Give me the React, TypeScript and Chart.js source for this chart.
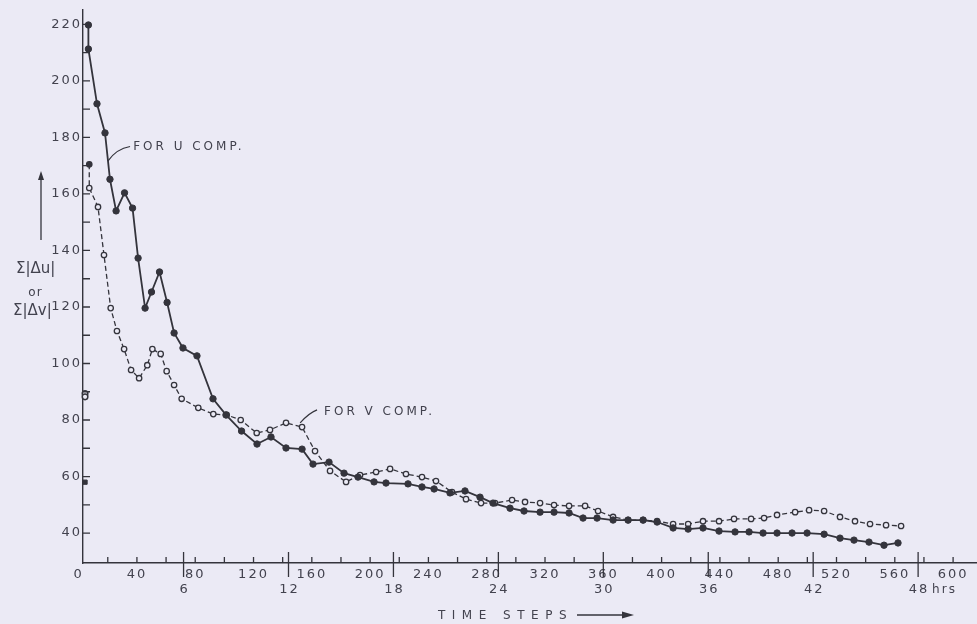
import React, { useEffect, useRef } from "react";
import { Chart, registerables } from "chart.js";

Chart.register(...registerables);

// ---------- data (time steps / sums) ----------
const uSteps = [6.7, 6.7, 12.6, 18.1, 21.5, 25.7, 31.5, 37.0, 40.8, 45.6, 50.0, 55.5, 60.7, 65.5, 71.6, 81.2, 92.2, 101.1, 111.8, 122.4, 132.0, 142.3, 153.3, 160.8, 171.8, 182.1, 191.7, 202.7, 210.9, 226.0, 235.6, 243.9, 254.8, 265.1, 275.4, 284.3, 296.0, 305.6, 316.6, 326.2, 336.5, 346.1, 355.7, 366.7, 377.0, 387.3, 396.9, 407.9, 418.2, 428.4, 439.4, 450.4, 460.0, 469.6, 479.2, 489.5, 499.8, 511.5, 522.4, 532.0, 542.3, 552.6, 562.2];
const uValues = [219.8, 211.3, 191.9, 181.6, 165.2, 154.0, 160.4, 155.0, 137.3, 119.6, 125.3, 132.4, 121.6, 110.8, 105.5, 102.7, 87.5, 81.8, 76.1, 71.5, 74.0, 70.1, 69.7, 64.4, 65.1, 61.2, 59.8, 58.1, 57.7, 57.4, 56.3, 55.6, 54.2, 54.9, 52.7, 50.6, 48.8, 47.8, 47.4, 47.4, 47.1, 45.3, 45.3, 44.6, 44.6, 44.6, 43.9, 41.8, 41.4, 41.8, 40.7, 40.4, 40.4, 40.0, 40.0, 40.0, 40.0, 39.6, 38.2, 37.5, 36.8, 35.7, 36.5];

const vSteps = [7.3, 7.3, 13.3, 17.4, 22.0, 26.3, 31.2, 36.0, 41.5, 47.1, 50.6, 56.3, 60.4, 65.5, 70.7, 82.1, 92.4, 101.6, 111.2, 122.2, 131.3, 142.3, 153.3, 162.2, 172.5, 183.5, 193.1, 204.1, 213.7, 224.6, 235.6, 245.2, 256.2, 265.8, 276.1, 285.7, 297.4, 306.3, 316.6, 326.2, 336.5, 347.5, 356.4, 366.7, 377.0, 387.3, 396.9, 407.9, 418.2, 428.4, 439.4, 449.7, 461.4, 470.3, 479.2, 491.6, 501.2, 511.5, 522.4, 532.7, 543.0, 554.0, 564.3];
const vValues = [170.5, 162.1, 155.4, 138.4, 119.6, 111.5, 105.1, 97.7, 94.8, 99.4, 105.1, 103.4, 97.3, 92.4, 87.5, 84.3, 82.1, 81.8, 80.0, 75.4, 76.5, 79.0, 77.5, 69.0, 62.0, 58.1, 60.5, 61.6, 62.7, 60.9, 59.8, 58.4, 54.5, 52.0, 50.6, 50.6, 51.7, 51.0, 50.6, 49.9, 49.6, 49.6, 47.8, 45.7, 44.6, 44.6, 44.2, 43.2, 43.2, 44.2, 44.2, 45.0, 45.0, 45.3, 46.4, 47.4, 48.1, 47.8, 45.7, 44.2, 43.2, 42.8, 42.5];

// marks sitting on the ordinate
const axisOpenSteps = [4.4, 4.4];
const axisOpenValues = [89.4, 88.2];
const axisFilledSteps = [4.4];
const axisFilledValues = [58.0];

// ---------- axes ----------
const xTickLabels = [0, 40, 80, 120, 160, 200, 240, 280, 320, 360, 400, 440, 480, 520, 560, 600];
const xMinorTicks = [20, 40, 60, 80, 100, 120, 140, 160, 180, 200, 220, 240, 260, 280, 300, 320, 340, 360, 380, 400, 420, 440, 460, 480, 500, 520, 540, 560, 580, 600];
const hourSteps = [72, 144, 216, 288, 360, 432, 504, 576];
const hourLabels = ["6", "12", "18", "24", "30", "36", "42", "48"];
const yTickLabels = [40, 60, 80, 100, 120, 140, 160, 180, 200, 220];
const yMinorTicks = [40, 50, 60, 70, 80, 90, 100, 110, 120, 130, 140, 150, 160, 170, 180, 190, 200, 210, 220];

const X_MIN = 3.0;
const X_MAX = 616.4;
const Y_MIN = 29.4;
const Y_MAX = 225.1;

const BG = "#ebeaf5";
const INK = "#34343c";
const LABEL = "#42424e";
const FONT = '"DejaVu Sans", sans-serif';

function drawText(
  ctx: CanvasRenderingContext2D,
  s: string,
  x: number,
  y: number,
  size: number,
  align: CanvasTextAlign,
  spacing: number
) {
  ctx.font = `${size}px ${FONT}`;
  (ctx as any).letterSpacing = `${spacing}px`;
  ctx.textAlign = align;
  ctx.textBaseline = "middle";
  ctx.fillStyle = LABEL;
  const dx = align === "center" ? spacing / 2 : 0;
  ctx.fillText(s, x + dx, y);
}

const decor = {
  id: "decor",
  beforeDraw(chart: any) {
    (chart.ctx as any).letterSpacing = "2px";
  },
  afterDraw(chart: any) {
    const ctx: CanvasRenderingContext2D = chart.ctx;
    const x = chart.scales.x;
    const y = chart.scales.y;
    const { left, bottom } = chart.chartArea;
    ctx.save();
    (ctx as any).letterSpacing = "0px";
    ctx.strokeStyle = INK;
    ctx.lineWidth = 1.3;
    ctx.beginPath();
    for (const v of yMinorTicks) {
      const py = y.getPixelForValue(v);
      ctx.moveTo(left, py);
      ctx.lineTo(left + 7, py);
    }
    for (const s of xMinorTicks) {
      const px = x.getPixelForValue(s);
      ctx.moveTo(px, bottom);
      ctx.lineTo(px, bottom - 6);
    }
    for (const s of hourSteps) {
      const px = x.getPixelForValue(s);
      ctx.moveTo(px, bottom - 11);
      ctx.lineTo(px, bottom + 14);
    }
    ctx.stroke();

    // hour labels
    hourLabels.forEach((h, i) => {
      const px = x.getPixelForValue(hourSteps[i]);
      drawText(ctx, h, px, 590, 13, "center", 2);
      if (i === hourLabels.length - 1) {
        drawText(ctx, "hrs", px + 14, 590, 12, "left", 2);
      }
    });

    // annotations
    ctx.strokeStyle = INK;
    ctx.lineWidth = 1.2;
    ctx.beginPath();
    ctx.moveTo(x.getPixelForValue(20.2), y.getPixelForValue(171.7));
    ctx.quadraticCurveTo(
      x.getPixelForValue(26), y.getPixelForValue(176),
      x.getPixelForValue(35.3), y.getPixelForValue(176.8)
    );
    ctx.moveTo(x.getPixelForValue(152), y.getPixelForValue(79));
    ctx.quadraticCurveTo(
      x.getPixelForValue(158), y.getPixelForValue(82.5),
      x.getPixelForValue(163.6), y.getPixelForValue(83.6)
    );
    ctx.stroke();
    drawText(ctx, "FOR U COMP.", x.getPixelForValue(37.4), y.getPixelForValue(176.5), 12, "left", 3);
    drawText(ctx, "FOR V COMP.", x.getPixelForValue(168.4), y.getPixelForValue(82.8), 12, "left", 3);

    // y title
    ctx.strokeStyle = INK;
    ctx.lineWidth = 1.3;
    ctx.beginPath();
    ctx.moveTo(41, 240);
    ctx.lineTo(41, 178);
    ctx.stroke();
    ctx.fillStyle = INK;
    ctx.beginPath();
    ctx.moveTo(41, 171);
    ctx.lineTo(38, 180);
    ctx.lineTo(44, 180);
    ctx.closePath();
    ctx.fill();
    drawText(ctx, "\u03A3|\u0394u|", 16, 269, 15, "left", 0);
    drawText(ctx, "or", 35, 293, 12, "center", 1);
    drawText(ctx, "\u03A3|\u0394v|", 13, 311, 15, "left", 0);

    // x title
    drawText(ctx, "TIME STEPS", 438, 616, 12, "left", 6.5);
    ctx.strokeStyle = INK;
    ctx.lineWidth = 1.3;
    ctx.beginPath();
    ctx.moveTo(577, 615);
    ctx.lineTo(625, 615);
    ctx.stroke();
    ctx.fillStyle = INK;
    ctx.beginPath();
    ctx.moveTo(634, 615);
    ctx.lineTo(622, 611.5);
    ctx.lineTo(622, 618.5);
    ctx.closePath();
    ctx.fill();
    ctx.restore();
  },
};

export default function App() {
  const ref = useRef<HTMLCanvasElement>(null);
  useEffect(() => {
    document.body.style.margin = "0";
    document.body.style.background = BG;
    const toPts = (xs: number[], ys: number[]) => xs.map((s, i) => ({ x: s, y: ys[i] }));
    const chart = new Chart(ref.current as HTMLCanvasElement, {
      type: "line",
      data: {
        datasets: [
          {
            label: "U comp",
            data: toPts(uSteps, uValues),
            borderColor: INK,
            borderWidth: 1.8,
            pointRadius: 3.2,
            pointBackgroundColor: INK,
            pointBorderColor: INK,
            pointBorderWidth: 1,
            tension: 0,
            clip: false,
          },
          {
            label: "V comp",
            data: toPts(vSteps, vValues),
            borderColor: INK,
            borderWidth: 1.3,
            borderDash: [5, 3],
            pointRadius: 2.7,
            pointBackgroundColor: vSteps.map((_, i) => (i === 0 ? INK : BG)),
            pointBorderColor: INK,
            pointBorderWidth: 1.3,
            tension: 0,
            clip: false,
          },
          {
            label: "axis open",
            data: toPts(axisOpenSteps, axisOpenValues),
            showLine: false,
            pointRadius: 2.8,
            pointBackgroundColor: BG,
            pointBorderColor: INK,
            pointBorderWidth: 1.5,
            clip: false,
          },
          {
            label: "axis filled",
            data: toPts(axisFilledSteps, axisFilledValues),
            showLine: false,
            pointStyle: "rect",
            pointRadius: 3,
            pointBackgroundColor: INK,
            pointBorderColor: INK,
            clip: false,
          },
        ],
      },
      options: {
        responsive: false,
        animation: false,
        devicePixelRatio: 1,
        layout: { autoPadding: false, padding: { top: 10, left: 0, right: 0, bottom: 0 } },
        plugins: { legend: { display: false }, tooltip: { enabled: false } },
        scales: {
          x: {
            type: "linear",
            min: X_MIN,
            max: X_MAX,
            grid: { display: false, drawTicks: false },
            border: { display: true, color: INK, width: 1.4 },
            afterBuildTicks: (s: any) => {
              s.ticks = xTickLabels.map((v) => ({ value: v }));
            },
            afterFit: (s: any) => {
              s.height = 61;
              s.paddingLeft = 0;
              s.paddingRight = 0;
            },
            ticks: {
              autoSkip: false,
              maxRotation: 0,
              padding: 4,
              color: LABEL,
              font: { family: FONT, size: 13 },
              callback: (v: any) => String(v),
            },
          },
          y: {
            type: "linear",
            min: Y_MIN,
            max: Y_MAX,
            grid: { display: false, drawTicks: false },
            border: { display: true, color: INK, width: 1.4 },
            afterBuildTicks: (s: any) => {
              s.ticks = yTickLabels.map((v) => ({ value: v }));
            },
            afterFit: (s: any) => {
              s.width = 83;
              s.paddingTop = 0;
              s.paddingBottom = 0;
            },
            ticks: {
              padding: 1,
              color: LABEL,
              font: { family: FONT, size: 13 },
              callback: (v: any) => String(v),
            },
          },
        },
      },
      plugins: [decor],
    } as any);
    return () => chart.destroy();
  }, []);
  return (
    <div style={{ width: 977, height: 624, background: BG }}>
      <canvas ref={ref} width={977} height={624} style={{ display: "block" }} />
    </div>
  );
}
